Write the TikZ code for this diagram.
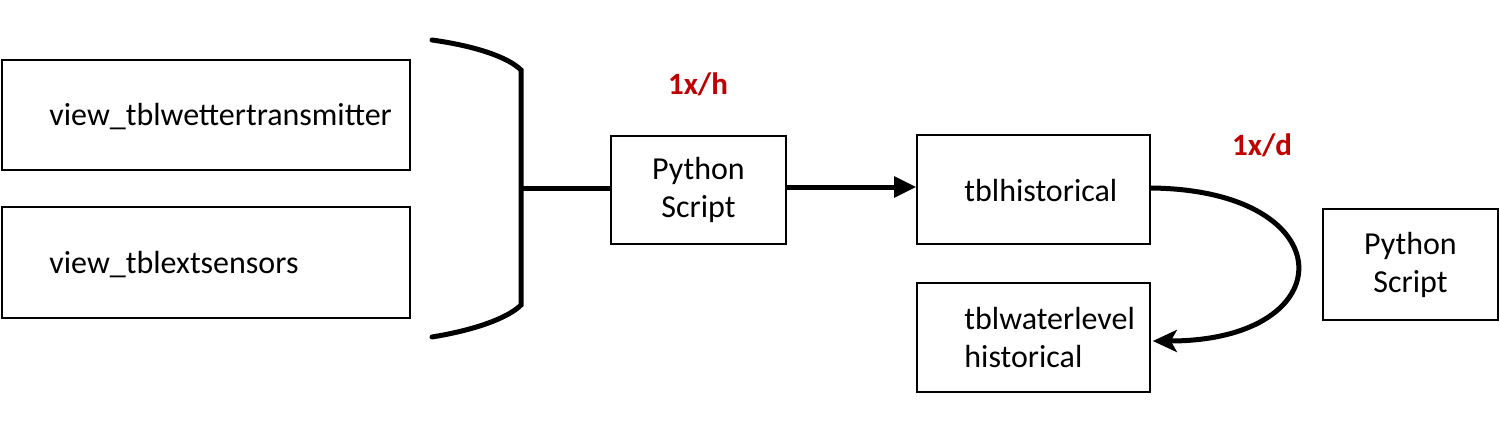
\documentclass[tikz,border=0pt]{standalone}
\usepackage{fontspec}
\setmainfont{Carlito}
\usetikzlibrary{arrows.meta}
\definecolor{darkred}{RGB}{192,0,0}
\tikzset{
  box/.style={draw=black, line width=1.6pt, rectangle, inner sep=0pt},
  lbl/.style={inner sep=0pt, font=\fontsize{32}{38}\selectfont, align=left},
  freq/.style={inner sep=0pt, text=darkred, font=\fontsize{31}{34}\selectfont\bfseries},
  thick line/.style={line width=5pt},
}
\begin{document}
\begin{tikzpicture}[x=1pt,y=-1pt]
\useasboundingbox (0,0) rectangle (1500,428);
% left boxes
\node[box, minimum width=408pt, minimum height=110pt] (wt) at (206,115) {};
\node[lbl, anchor=west] (wtt) at ([xshift=48pt,yshift=-2pt]wt.west) {view\_tblwettertransmitter};
\node[box, minimum width=408pt, minimum height=111pt] (es) at (206,262.5) {};
\node[lbl, anchor=west] (est) at ([xshift=48pt,yshift=-2pt]es.west) {view\_tblextsensors};
% bracket
\coordinate (bt) at (432,40);
\coordinate (bc1) at (521,70);
\coordinate (bj) at (521,188);
\coordinate (bc2) at (521,305);
\coordinate (bb) at (432,337);
\draw[thick line, line cap=round] (bt) .. controls (475,46) and (508,57) .. (bc1) -- (bc2) .. controls (508,318) and (475,330) .. (bb);
% python script 1
\node[box, minimum width=175pt, minimum height=108pt, lbl, align=center] (ps1) at (698.5,190) {Python\\Script};
\node[freq] (fh) at (698,84) {1x/h};
\draw[thick line] (bj) -- (ps1.west |- bj);
% tblhistorical
\node[box, minimum width=233pt, minimum height=109pt] (th) at (1033.5,189.5) {};
\node[lbl, anchor=west] (tht) at ([xshift=48pt,yshift=-1pt]th.west) {tblhistorical};
\draw[thick line, -{Triangle[length=22pt,width=20pt]}] (ps1.east |- 0,187) -- (th.west |- 0,187);
% tblwaterlevel historical
\node[box, minimum width=233pt, minimum height=109pt] (tw) at (1033.5,337.5) {};
\node[lbl, anchor=west] (twt) at ([xshift=48pt]tw.west) {tblwaterlevel\\historical};
% curve
\node[freq] (fd) at (1262,145) {1x/d};
\draw[thick line, -{Stealth[length=24pt,width=22pt,inset=6pt]}] (th.east |- 0,188) .. controls (1345,190) and (1345,341) .. ([xshift=2pt]tw.east |- 0,341);
% python script 2
\node[box, minimum width=175pt, minimum height=111pt, lbl, align=center] (ps2) at (1410.5,264.5) {Python\\Script};
\end{tikzpicture}
\end{document}
